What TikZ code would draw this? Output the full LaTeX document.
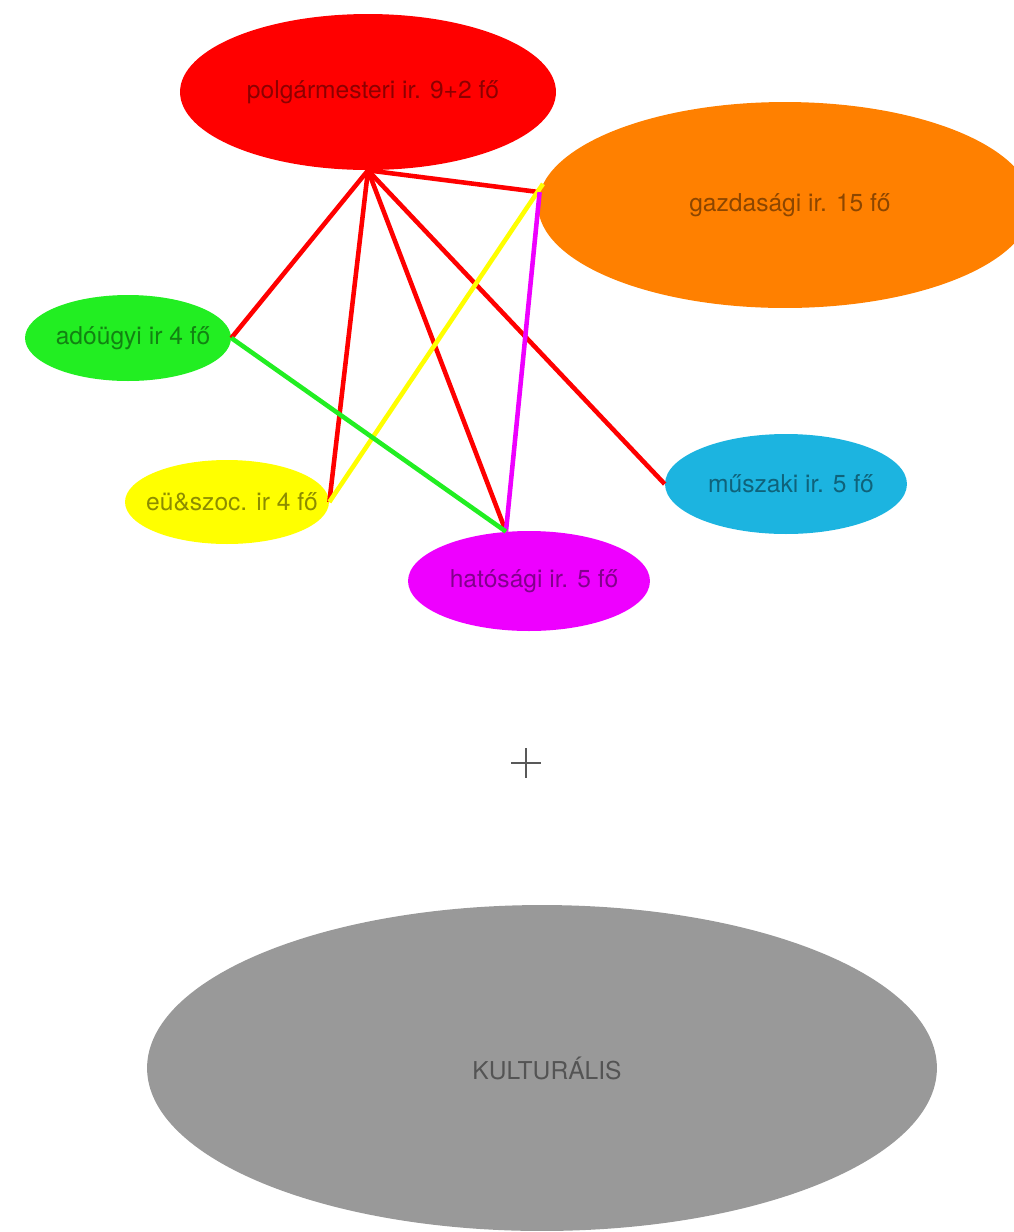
\documentclass[tikz,border=0pt]{standalone}
\usepackage{fontspec}
\setmainfont{TeX Gyre Heros}
\usetikzlibrary{shapes.geometric}

\definecolor{polgred}{HTML}{FF0000}
\definecolor{gazorange}{HTML}{FF8000}
\definecolor{adogreen}{HTML}{22EE22}
\definecolor{euyellow}{HTML}{FFFF00}
\definecolor{hatmagenta}{HTML}{EE00FF}
\definecolor{muscyan}{HTML}{1CB4E0}
\definecolor{kultgray}{HTML}{999999}

\begin{document}
\begin{tikzpicture}[x=0.02cm,y=-0.02cm,
    irod/.style={ellipse,inner sep=0pt,
                 label={[text=black,text opacity=0.45,xshift=0.1cm,
                         font=\fontsize{14pt}{16pt}\selectfont]center:#1}},
    kapcs/.style={line width=2.6pt}]

    \useasboundingbox (0,0) rectangle (1014,1232);

    \node[irod={polgármesteri ir. 9+2 fő},fill=polgred,minimum width=7.52cm,minimum height=3.12cm] (polg) at (368,92) {};
    \node[irod={gazdasági ir. 15 fő},fill=gazorange,minimum width=9.88cm,minimum height=4.12cm] (gaz) at (785,205) {};
    \node[irod={adóügyi ir 4 fő},fill=adogreen,minimum width=4.12cm,minimum height=1.72cm] (ado) at (128,338) {};
    \node[irod={eü\&szoc. ir 4 fő},fill=euyellow,minimum width=4.08cm,minimum height=1.68cm] (eu) at (227,502) {};
    \node[irod={hatósági ir. 5 fő},fill=hatmagenta,minimum width=4.84cm,minimum height=2cm] (hat) at (529,581) {};
    \node[irod={műszaki ir. 5 fő},fill=muscyan,minimum width=4.84cm,minimum height=2cm] (mus) at (786,484) {};
    \node[irod={KULTURÁLIS},fill=kultgray,minimum width=15.8cm,minimum height=6.52cm] (kult) at (542,1068) {};

    \draw[kapcs,polgred] (polg.south) -- (ado.east);
    \draw[kapcs,polgred] (polg.south) -- (eu.east);
    \draw[kapcs,polgred] (polg.south) -- (hat.115);
    \draw[kapcs,polgred] (polg.south) -- (mus.west);
    \draw[kapcs,polgred] (polg.south) -- (gaz.177);
    \draw[kapcs,euyellow] (eu.east) -- (gaz.175);
    \draw[kapcs,hatmagenta] (hat.115) -- (gaz.177);
    \draw[kapcs,adogreen] (ado.east) -- (hat.115);

    \draw[line width=0.9pt,black!65] (511,763) -- (541,763);
    \draw[line width=0.9pt,black!65] (526,748) -- (526,778);
\end{tikzpicture}
\end{document}
